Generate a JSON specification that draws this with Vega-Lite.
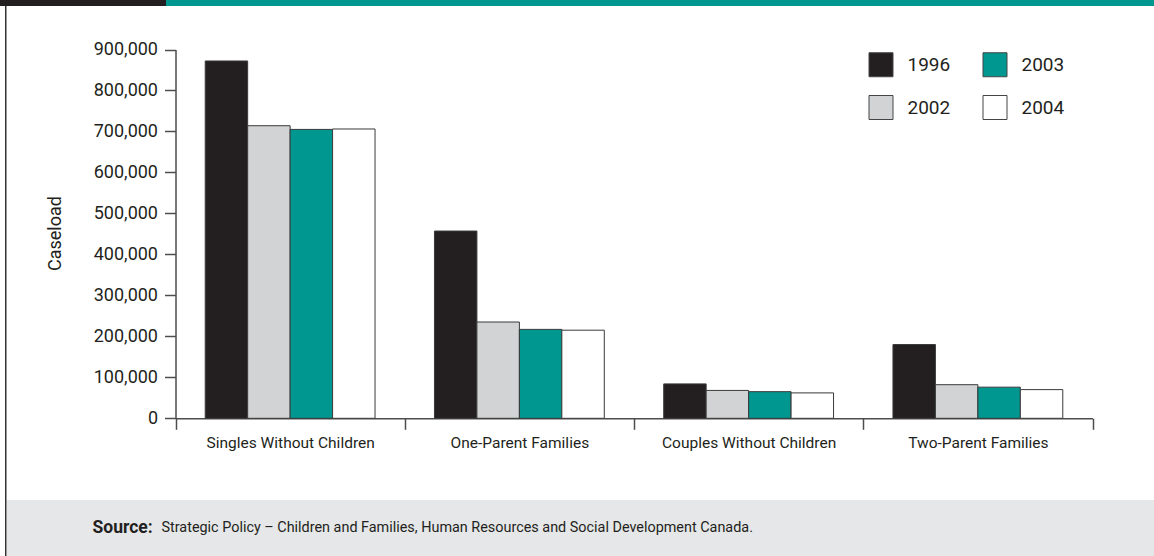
{
  "$schema": "https://vega.github.io/schema/vega-lite/v6.json",
  "padding": 0,
  "background": "white",
  "spacing": 0,
  "config": {
    "view": {"stroke": null},
    "font": "Roboto",
    "concat": {"spacing": 0}
  },
  "vconcat": [
    {
      "spacing": 0,
      "bounds": "flush",
      "hconcat": [
        {
          "width": 166, "height": 6,
          "view": {"fill": "#231f20", "stroke": null},
          "data": {"values": [{}]},
          "mark": {"type": "text", "text": "", "fontSize": 1},
          "encoding": {}
        },
        {
          "width": 988, "height": 6,
          "view": {"fill": "#009790", "stroke": null},
          "data": {"values": [{}]},
          "mark": {"type": "text", "text": "", "fontSize": 1},
          "encoding": {}
        }
      ]
    },
    {
      "spacing": 0,
      "bounds": "flush",
      "hconcat": [
        {
          "width": 5, "height": 550,
          "view": {"fill": "white", "stroke": null},
          "data": {"values": [{}]},
          "mark": {"type": "text", "text": "", "fontSize": 1},
          "encoding": {}
        },
        {
          "width": 1.5, "height": 550,
          "view": {"fill": "#333333", "stroke": null},
          "data": {"values": [{}]},
          "mark": {"type": "text", "text": "", "fontSize": 1},
          "encoding": {}
        },
        {
          "spacing": 0,
          "bounds": "flush",
          "vconcat": [
            {
              "width": 1147.5, "height": 494,
              "view": {"fill": "white", "stroke": null},
              "data": {"values": [
                {"category": "Singles Without Children", "year": "1996", "caseload": 872000},
                {"category": "Singles Without Children", "year": "2002", "caseload": 714000},
                {"category": "Singles Without Children", "year": "2003", "caseload": 705000},
                {"category": "Singles Without Children", "year": "2004", "caseload": 706000},
                {"category": "One-Parent Families", "year": "1996", "caseload": 457000},
                {"category": "One-Parent Families", "year": "2002", "caseload": 235000},
                {"category": "One-Parent Families", "year": "2003", "caseload": 217000},
                {"category": "One-Parent Families", "year": "2004", "caseload": 215000},
                {"category": "Couples Without Children", "year": "1996", "caseload": 84000},
                {"category": "Couples Without Children", "year": "2002", "caseload": 68000},
                {"category": "Couples Without Children", "year": "2003", "caseload": 65000},
                {"category": "Couples Without Children", "year": "2004", "caseload": 62000},
                {"category": "Two-Parent Families", "year": "1996", "caseload": 180000},
                {"category": "Two-Parent Families", "year": "2002", "caseload": 82000},
                {"category": "Two-Parent Families", "year": "2003", "caseload": 76000},
                {"category": "Two-Parent Families", "year": "2004", "caseload": 70000}
              ]},
              "mark": {"type": "bar", "stroke": "#3a3a3a", "strokeWidth": 1},
              "encoding": {
                "x": {
                  "field": "category", "type": "nominal",
                  "sort": ["Singles Without Children", "One-Parent Families", "Couples Without Children", "Two-Parent Families"],
                  "scale": {"range": [168.5, 1085.5], "paddingInner": 0, "paddingOuter": 0},
                  "axis": {
                    "title": null, "orient": "bottom", "offset": -81.7,
                    "tickBand": "extent", "tickSize": 11, "tickColor": "#4d4d4d", "tickWidth": 1.5,
                    "domainColor": "#4d4d4d", "domainWidth": 1.5,
                    "labelAngle": 0, "labelFontSize": 15.5, "labelColor": "#231f20", "labelPadding": 6
                  }
                },
                "xOffset": {
                  "field": "year", "type": "nominal",
                  "sort": ["1996", "2002", "2003", "2004"],
                  "scale": {"paddingInner": 0, "paddingOuter": 0.7}
                },
                "y": {
                  "field": "caseload", "type": "quantitative",
                  "scale": {"domain": [0, 900000], "range": [412.3, 43.5], "nice": false},
                  "axis": {
                    "title": "Caseload", "orient": "left", "offset": -168.5,
                    "values": [0, 100000, 200000, 300000, 400000, 500000, 600000, 700000, 800000, 900000],
                    "format": ",d", "grid": false,
                    "tickSize": 11, "tickColor": "#4d4d4d", "tickWidth": 1.5,
                    "domainColor": "#4d4d4d", "domainWidth": 1.5,
                    "labelFontSize": 18, "labelColor": "#231f20", "labelPadding": 7,
                    "titleFontSize": 18, "titleFontWeight": "normal", "titleColor": "#231f20",
                    "titleX": -120, "titleY": 227, "titleAngle": -90,
                    "titleAlign": "center", "titleBaseline": "middle"
                  }
                },
                "color": {
                  "field": "year", "type": "nominal",
                  "scale": {"domain": ["1996", "2002", "2003", "2004"], "range": ["#231f20", "#d1d3d4", "#009790", "#ffffff"]},
                  "legend": {
                    "title": null, "orient": "none", "legendX": 868.5, "legendY": 52,
                    "columns": 2,
                    "symbolType": "square", "symbolSize": 576,
                    "symbolStrokeColor": "#444444", "symbolStrokeWidth": 1, "symbolOpacity": 1,
                    "labelFontSize": 19, "labelColor": "#231f20", "labelOffset": 14,
                    "columnPadding": 30, "rowPadding": 14, "padding": 0
                  }
                }
              }
            },
            {
              "width": 1147.5, "height": 56,
              "view": {"fill": "#e6e7e8", "stroke": null},
              "layer": [
                {
                  "data": {"values": [{"t": "Source:"}]},
                  "mark": {"type": "text", "align": "left", "baseline": "middle", "dx": -488.25, "fontSize": 17.5, "fontWeight": "bold", "color": "#231f20"},
                  "encoding": {"text": {"field": "t", "type": "nominal"}}
                },
                {
                  "data": {"values": [{"t": "Strategic Policy – Children and Families, Human Resources and Social Development Canada."}]},
                  "mark": {"type": "text", "align": "left", "baseline": "middle", "dx": -419.25, "fontSize": 14.4, "fontWeight": "normal", "color": "#231f20"},
                  "encoding": {"text": {"field": "t", "type": "nominal"}}
                }
              ]
            }
          ]
        }
      ]
    }
  ]
}
